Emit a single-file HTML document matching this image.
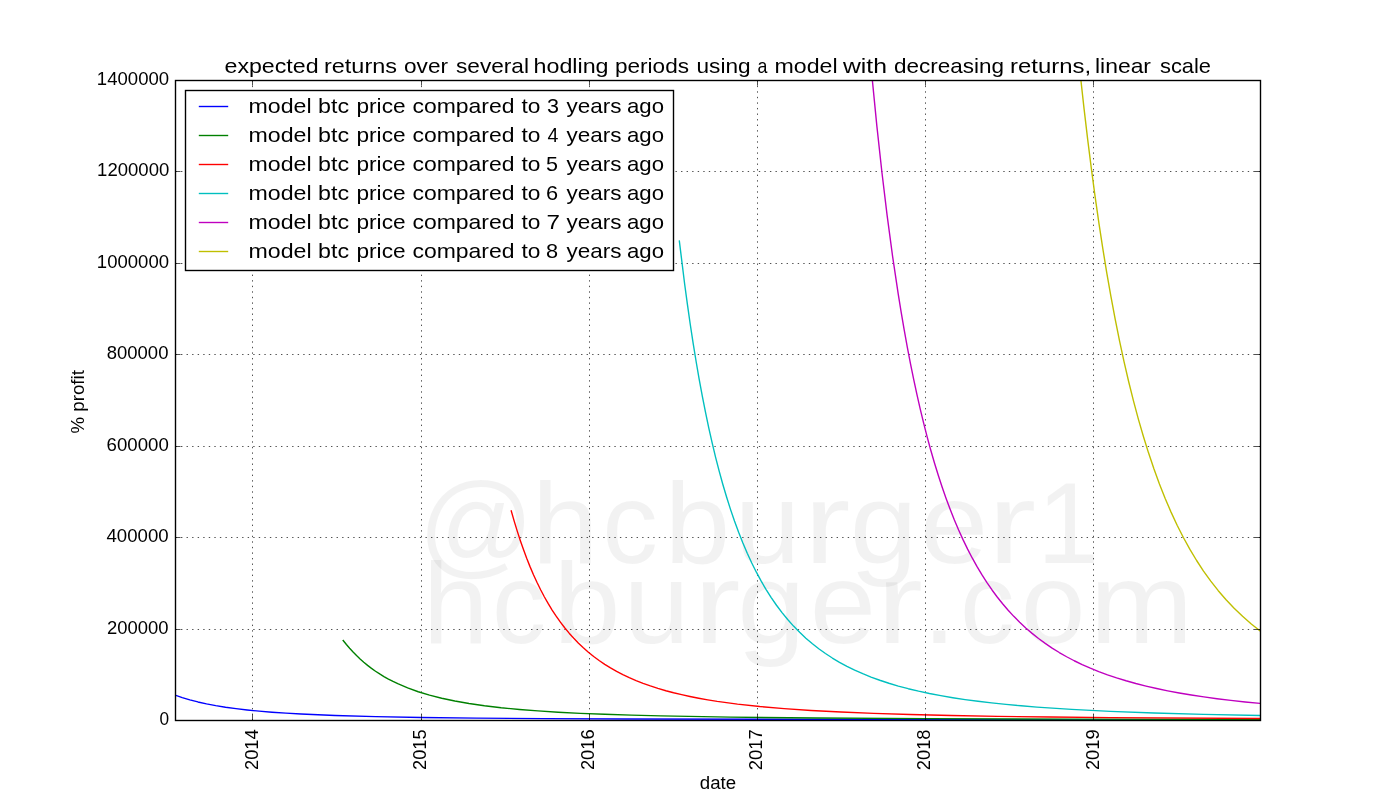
<!DOCTYPE html>
<html><head><meta charset="utf-8"><title>expected returns</title><style>html,body{margin:0;padding:0;background:#fff;overflow:hidden}svg{display:block;will-change:transform}text{font-family:"Liberation Sans",sans-serif;white-space:pre}</style></head><body>
<svg width="1400" height="800" viewBox="0 0 1400 800">
<defs><clipPath id="ax"><rect x="175" y="80" width="1085" height="640"/></clipPath></defs>
<rect width="1400" height="800" fill="#fff"/>
<g fill="#000" fill-opacity="0.05"><text class="t" id="wm1_0" x="418.35" y="563.40" font-size="115.50" textLength="115.59" lengthAdjust="spacingAndGlyphs" fill="#000" fill-opacity="0.05">@</text><text class="t" id="wm1_1" x="531.88" y="563.40" font-size="115.50" textLength="66.71" lengthAdjust="spacingAndGlyphs" fill="#000" fill-opacity="0.05">h</text><text class="t" id="wm1_2" x="602.37" y="563.40" font-size="115.50" textLength="55.69" lengthAdjust="spacingAndGlyphs" fill="#000" fill-opacity="0.05">c</text><text class="t" id="wm1_3" x="664.73" y="563.40" font-size="115.50" textLength="65.43" lengthAdjust="spacingAndGlyphs" fill="#000" fill-opacity="0.05">b</text><text class="t" id="wm1_4" x="734.69" y="563.40" font-size="115.50" textLength="65.59" lengthAdjust="spacingAndGlyphs" fill="#000" fill-opacity="0.05">u</text><text class="t" id="wm1_5" x="803.81" y="563.40" font-size="115.50" textLength="46.75" lengthAdjust="spacingAndGlyphs" fill="#000" fill-opacity="0.05">r</text><text class="t" id="wm1_6" x="849.80" y="563.40" font-size="115.50" textLength="67.65" lengthAdjust="spacingAndGlyphs" fill="#000" fill-opacity="0.05">g</text><text class="t" id="wm1_7" x="919.67" y="563.40" font-size="115.50" textLength="68.51" lengthAdjust="spacingAndGlyphs" fill="#000" fill-opacity="0.05">e</text><text class="t" id="wm1_8" x="987.48" y="563.40" font-size="115.50" textLength="48.75" lengthAdjust="spacingAndGlyphs" fill="#000" fill-opacity="0.05">r</text><text class="t" id="wm1_9" x="1036.88" y="563.40" font-size="115.50" textLength="62.17" lengthAdjust="spacingAndGlyphs" fill="#000" fill-opacity="0.05">1</text><text class="t" id="wm2_0" x="422.82" y="643.40" font-size="115.50" textLength="65.91" lengthAdjust="spacingAndGlyphs" fill="#000" fill-opacity="0.05">h</text><text class="t" id="wm2_1" x="492.02" y="643.40" font-size="115.50" textLength="53.95" lengthAdjust="spacingAndGlyphs" fill="#000" fill-opacity="0.05">c</text><text class="t" id="wm2_2" x="553.53" y="643.40" font-size="115.50" textLength="67.03" lengthAdjust="spacingAndGlyphs" fill="#000" fill-opacity="0.05">b</text><text class="t" id="wm2_3" x="623.43" y="643.40" font-size="115.50" textLength="66.15" lengthAdjust="spacingAndGlyphs" fill="#000" fill-opacity="0.05">u</text><text class="t" id="wm2_4" x="693.56" y="643.40" font-size="115.50" textLength="47.05" lengthAdjust="spacingAndGlyphs" fill="#000" fill-opacity="0.05">r</text><text class="t" id="wm2_5" x="737.36" y="643.40" font-size="115.50" textLength="68.02" lengthAdjust="spacingAndGlyphs" fill="#000" fill-opacity="0.05">g</text><text class="t" id="wm2_6" x="809.75" y="643.40" font-size="115.50" textLength="66.26" lengthAdjust="spacingAndGlyphs" fill="#000" fill-opacity="0.05">e</text><text class="t" id="wm2_7" x="876.84" y="643.40" font-size="115.50" textLength="46.14" lengthAdjust="spacingAndGlyphs" fill="#000" fill-opacity="0.05">r</text><text class="t" id="wm2_8" x="921.80" y="643.40" font-size="115.50" textLength="35.31" lengthAdjust="spacingAndGlyphs" fill="#000" fill-opacity="0.05">.</text><text class="t" id="wm2_9" x="960.05" y="643.40" font-size="115.50" textLength="54.73" lengthAdjust="spacingAndGlyphs" fill="#000" fill-opacity="0.05">c</text><text class="t" id="wm2_10" x="1020.82" y="643.40" font-size="115.50" textLength="64.78" lengthAdjust="spacingAndGlyphs" fill="#000" fill-opacity="0.05">o</text><text class="t" id="wm2_11" x="1089.66" y="643.40" font-size="115.50" textLength="103.44" lengthAdjust="spacingAndGlyphs" fill="#000" fill-opacity="0.05">m</text></g>
<g class="grid"><path d="M252.5 720V80" stroke="#000" stroke-width="0.69" stroke-dasharray="1.389 4.167" stroke-dashoffset="0.5" fill="none"/><path d="M421.5 720V80" stroke="#000" stroke-width="0.69" stroke-dasharray="1.389 4.167" stroke-dashoffset="0.5" fill="none"/><path d="M589.5 720V80" stroke="#000" stroke-width="0.69" stroke-dasharray="1.389 4.167" stroke-dashoffset="0.5" fill="none"/><path d="M757.5 720V80" stroke="#000" stroke-width="0.69" stroke-dasharray="1.389 4.167" stroke-dashoffset="0.5" fill="none"/><path d="M925.5 720V80" stroke="#000" stroke-width="0.69" stroke-dasharray="1.389 4.167" stroke-dashoffset="0.5" fill="none"/><path d="M1093.5 720V80" stroke="#000" stroke-width="0.69" stroke-dasharray="1.389 4.167" stroke-dashoffset="0.5" fill="none"/><path d="M175 171.5H1260" stroke="#000" stroke-width="0.69" stroke-dasharray="1.389 4.167" stroke-dashoffset="-0.45" fill="none"/><path d="M175 263.5H1260" stroke="#000" stroke-width="0.69" stroke-dasharray="1.389 4.167" stroke-dashoffset="-0.45" fill="none"/><path d="M175 354.5H1260" stroke="#000" stroke-width="0.69" stroke-dasharray="1.389 4.167" stroke-dashoffset="-0.45" fill="none"/><path d="M175 446.5H1260" stroke="#000" stroke-width="0.69" stroke-dasharray="1.389 4.167" stroke-dashoffset="-0.45" fill="none"/><path d="M175 537.5H1260" stroke="#000" stroke-width="0.69" stroke-dasharray="1.389 4.167" stroke-dashoffset="-0.45" fill="none"/><path d="M175 629.5H1260" stroke="#000" stroke-width="0.69" stroke-dasharray="1.389 4.167" stroke-dashoffset="-0.45" fill="none"/></g>
<g clip-path="url(#ax)"><path d="M175.09 695.10 L182.23 697.58 L189.83 699.86 L197.89 701.95 L206.52 703.87 L215.73 705.63 L225.52 707.22 L235.99 708.67 L247.16 709.97 L259.13 711.15 L272.03 712.21 L285.96 713.17 L301.04 714.03 L335.12 715.48 L375.76 716.62 L421.35 717.46 L476.38 718.12 L543.50 718.62 L626.85 719.01 L862.28 719.50 L1260.39 719.75" stroke="#0000ff" stroke-width="1.39" fill="none" stroke-linejoin="round" stroke-linecap="square"/><path d="M343.18 640.50 L346.40 644.54 L349.62 648.31 L353.08 652.08 L356.53 655.60 L360.10 658.99 L363.78 662.25 L367.58 665.37 L371.50 668.36 L375.53 671.22 L379.67 673.94 L383.93 676.54 L388.42 679.07 L393.03 681.46 L397.75 683.73 L407.65 687.94 L418.24 691.75 L429.52 695.17 L441.73 698.27 L454.85 701.05 L469.01 703.53 L484.44 705.76 L501.13 707.73 L519.44 709.48 L537.97 710.92 L558.23 712.20 L580.34 713.32 L604.63 714.31 L631.34 715.17 L660.93 715.92 L730.46 717.13 L816.23 718.01 L925.95 718.65 L1068.94 719.10 L1260.39 719.41" stroke="#008000" stroke-width="1.39" fill="none" stroke-linejoin="round" stroke-linecap="square"/><path d="M511.26 510.93 L514.26 521.37 L517.25 531.16 L520.36 540.68 L523.47 549.59 L526.69 558.24 L530.03 566.62 L533.48 574.70 L536.94 582.25 L540.62 589.75 L544.30 596.74 L548.10 603.44 L552.13 610.05 L556.16 616.18 L560.42 622.18 L564.68 627.75 L569.17 633.18 L573.78 638.32 L578.50 643.19 L583.33 647.79 L588.40 652.23 L593.69 656.50 L599.10 660.50 L604.74 664.34 L610.50 667.92 L616.60 671.39 L622.82 674.62 L629.27 677.68 L636.06 680.61 L643.08 683.36 L650.34 685.95 L657.93 688.40 L665.88 690.72 L673.59 692.76 L681.65 694.69 L689.94 696.49 L698.69 698.20 L707.78 699.81 L717.22 701.32 L737.49 704.07 L759.71 706.49 L784.11 708.60 L811.05 710.44 L840.98 712.03 L873.68 713.37 L910.18 714.52 L951.28 715.50 L997.67 716.33 L1050.29 717.03 L1110.50 717.61 L1260.39 718.48" stroke="#ff0000" stroke-width="1.39" fill="none" stroke-linejoin="round" stroke-linecap="square"/><path d="M679.35 241.08 L684.64 283.99 L687.41 304.45 L690.28 324.50 L693.16 343.34 L696.16 361.74 L699.15 379.02 L702.26 395.87 L705.48 412.24 L708.70 427.57 L712.16 442.94 L715.61 457.30 L719.18 471.16 L722.86 484.50 L726.66 497.32 L730.58 509.61 L734.49 521.05 L738.64 532.31 L742.90 543.04 L747.27 553.26 L751.76 562.98 L756.37 572.20 L761.20 581.15 L766.15 589.60 L771.22 597.58 L776.51 605.25 L782.04 612.61 L787.68 619.51 L793.55 626.09 L799.65 632.35 L805.87 638.17 L812.43 643.79 L818.77 648.74 L825.44 653.52 L832.35 658.03 L839.49 662.28 L846.97 666.33 L854.68 670.13 L862.74 673.72 L871.03 677.07 L879.78 680.27 L888.88 683.26 L898.32 686.06 L908.22 688.70 L918.58 691.18 L929.40 693.50 L940.80 695.67 L952.77 697.71 L965.09 699.57 L977.99 701.29 L991.57 702.91 L1005.96 704.42 L1021.04 705.81 L1036.93 707.10 L1071.58 709.40 L1110.27 711.35 L1154.01 713.00 L1203.63 714.38 L1260.39 715.52" stroke="#00bfbf" stroke-width="1.39" fill="none" stroke-linejoin="round" stroke-linecap="square"/><path d="M872.14 78.00 L876.90 126.34 L881.97 172.79 L887.15 215.67 L892.56 256.04 L898.20 293.89 L901.20 312.39 L904.19 329.89 L907.30 347.07 L910.41 363.30 L913.63 379.21 L916.85 394.22 L920.19 408.90 L923.65 423.21 L927.21 437.14 L930.78 450.24 L934.47 462.97 L938.27 475.31 L942.18 487.24 L946.10 498.44 L950.24 509.56 L954.38 519.98 L958.64 530.01 L963.13 539.90 L967.62 549.13 L972.34 558.20 L977.06 566.66 L982.02 574.93 L986.97 582.63 L992.03 589.98 L997.21 596.98 L1002.62 603.78 L1008.15 610.23 L1013.79 616.35 L1019.66 622.25 L1025.76 627.93 L1032.10 633.39 L1038.54 638.51 L1045.22 643.41 L1052.13 648.09 L1059.27 652.53 L1066.63 656.75 L1074.23 660.75 L1082.18 664.58 L1090.35 668.19 L1098.75 671.58 L1107.50 674.81 L1116.60 677.88 L1126.04 680.77 L1135.82 683.50 L1146.07 686.09 L1156.66 688.52 L1167.71 690.81 L1179.23 692.97 L1191.32 695.01 L1203.86 696.92 L1216.99 698.70 L1230.80 700.39 L1245.19 701.96 L1260.39 703.44" stroke="#bf00bf" stroke-width="1.39" fill="none" stroke-linejoin="round" stroke-linecap="square"/><path d="M1080.66 78.00 L1084.13 109.38 L1087.70 139.62 L1091.39 168.89 L1095.07 196.33 L1098.87 222.85 L1102.78 248.43 L1106.81 273.05 L1110.96 296.71 L1115.22 319.40 L1119.59 341.14 L1124.08 361.91 L1128.69 381.75 L1133.41 400.65 L1138.36 419.07 L1143.42 436.54 L1148.60 453.09 L1153.90 468.77 L1159.43 483.89 L1165.18 498.44 L1171.05 512.12 L1177.15 525.21 L1183.37 537.49 L1189.93 549.39 L1196.61 560.50 L1203.52 571.03 L1210.77 581.15 L1218.26 590.68 L1226.08 599.77 L1234.14 608.28 L1242.55 616.35 L1251.30 623.96 L1260.39 631.12" stroke="#bfbf00" stroke-width="1.39" fill="none" stroke-linejoin="round" stroke-linecap="square"/></g>
<path d="M252.5 720V714.44M252.5 80V85.56M421.5 720V714.44M421.5 80V85.56M589.5 720V714.44M589.5 80V85.56M757.5 720V714.44M757.5 80V85.56M925.5 720V714.44M925.5 80V85.56M1093.5 720V714.44M1093.5 80V85.56M175 171.5H180.56M1260 171.5H1254.44M175 263.5H180.56M1260 263.5H1254.44M175 354.5H180.56M1260 354.5H1254.44M175 446.5H180.56M1260 446.5H1254.44M175 537.5H180.56M1260 537.5H1254.44M175 629.5H180.56M1260 629.5H1254.44M175 720.5H180.56M1260 720.5H1254.44M175 80.5H180.56M1260 80.5H1254.44" stroke="#000" stroke-width="0.69" fill="none"/>
<rect x="175.5" y="80.5" width="1085" height="640" fill="none" stroke="#000" stroke-width="1.39"/>
<rect x="185.5" y="90.5" width="488.0" height="180.0" fill="#fff" stroke="#000" stroke-width="1.39"/>
<path d="M198.80 106.50H228.20" stroke="#0000ff" stroke-width="1.39"/>
<path d="M198.80 135.50H228.20" stroke="#008000" stroke-width="1.39"/>
<path d="M198.80 164.50H228.20" stroke="#ff0000" stroke-width="1.39"/>
<path d="M198.80 193.50H228.20" stroke="#00bfbf" stroke-width="1.39"/>
<path d="M198.80 222.50H228.20" stroke="#bf00bf" stroke-width="1.39"/>
<path d="M198.80 251.50H228.20" stroke="#bfbf00" stroke-width="1.39"/>
<text class="t" id="leg3_0" x="248.50" y="113.00" font-size="21.00" textLength="63.05" lengthAdjust="spacingAndGlyphs" fill="#000">model</text><text class="t" id="leg3_1" x="318.00" y="113.00" font-size="21.00" textLength="31.00" lengthAdjust="spacingAndGlyphs" fill="#000">btc</text><text class="t" id="leg3_2" x="356.50" y="113.00" font-size="21.00" textLength="49.07" lengthAdjust="spacingAndGlyphs" fill="#000">price</text><text class="t" id="leg3_3" x="412.50" y="113.00" font-size="21.00" textLength="102.03" lengthAdjust="spacingAndGlyphs" fill="#000">compared</text><text class="t" id="leg3_4" x="521.50" y="113.00" font-size="21.00" textLength="18.95" lengthAdjust="spacingAndGlyphs" fill="#000">to</text><text class="t" id="leg3_5" x="547.00" y="113.00" font-size="21.00" textLength="12.00" lengthAdjust="spacingAndGlyphs" fill="#000">3</text><text class="t" id="leg3_6" x="566.50" y="113.00" font-size="21.00" textLength="54.98" lengthAdjust="spacingAndGlyphs" fill="#000">years</text><text class="t" id="leg3_7" x="627.00" y="113.00" font-size="21.00" textLength="37.00" lengthAdjust="spacingAndGlyphs" fill="#000">ago</text><text class="t" id="leg4_0" x="248.50" y="142.00" font-size="21.00" textLength="63.05" lengthAdjust="spacingAndGlyphs" fill="#000">model</text><text class="t" id="leg4_1" x="318.00" y="142.00" font-size="21.00" textLength="31.00" lengthAdjust="spacingAndGlyphs" fill="#000">btc</text><text class="t" id="leg4_2" x="356.50" y="142.00" font-size="21.00" textLength="49.07" lengthAdjust="spacingAndGlyphs" fill="#000">price</text><text class="t" id="leg4_3" x="412.50" y="142.00" font-size="21.00" textLength="102.03" lengthAdjust="spacingAndGlyphs" fill="#000">compared</text><text class="t" id="leg4_4" x="521.50" y="142.00" font-size="21.00" textLength="18.95" lengthAdjust="spacingAndGlyphs" fill="#000">to</text><text class="t" id="leg4_5" x="547.50" y="142.00" font-size="21.00" textLength="10.91" lengthAdjust="spacingAndGlyphs" fill="#000">4</text><text class="t" id="leg4_6" x="566.50" y="142.00" font-size="21.00" textLength="54.98" lengthAdjust="spacingAndGlyphs" fill="#000">years</text><text class="t" id="leg4_7" x="627.00" y="142.00" font-size="21.00" textLength="37.00" lengthAdjust="spacingAndGlyphs" fill="#000">ago</text><text class="t" id="leg5_0" x="248.50" y="171.00" font-size="21.00" textLength="63.05" lengthAdjust="spacingAndGlyphs" fill="#000">model</text><text class="t" id="leg5_1" x="318.00" y="171.00" font-size="21.00" textLength="31.00" lengthAdjust="spacingAndGlyphs" fill="#000">btc</text><text class="t" id="leg5_2" x="356.50" y="171.00" font-size="21.00" textLength="49.07" lengthAdjust="spacingAndGlyphs" fill="#000">price</text><text class="t" id="leg5_3" x="412.50" y="171.00" font-size="21.00" textLength="102.03" lengthAdjust="spacingAndGlyphs" fill="#000">compared</text><text class="t" id="leg5_4" x="521.50" y="171.00" font-size="21.00" textLength="18.95" lengthAdjust="spacingAndGlyphs" fill="#000">to</text><text class="t" id="leg5_5" x="546.00" y="171.00" font-size="21.00" textLength="12.00" lengthAdjust="spacingAndGlyphs" fill="#000">5</text><text class="t" id="leg5_6" x="566.50" y="171.00" font-size="21.00" textLength="54.98" lengthAdjust="spacingAndGlyphs" fill="#000">years</text><text class="t" id="leg5_7" x="627.00" y="171.00" font-size="21.00" textLength="37.00" lengthAdjust="spacingAndGlyphs" fill="#000">ago</text><text class="t" id="leg6_0" x="248.50" y="200.00" font-size="21.00" textLength="63.05" lengthAdjust="spacingAndGlyphs" fill="#000">model</text><text class="t" id="leg6_1" x="318.00" y="200.00" font-size="21.00" textLength="31.00" lengthAdjust="spacingAndGlyphs" fill="#000">btc</text><text class="t" id="leg6_2" x="356.50" y="200.00" font-size="21.00" textLength="49.07" lengthAdjust="spacingAndGlyphs" fill="#000">price</text><text class="t" id="leg6_3" x="412.50" y="200.00" font-size="21.00" textLength="102.03" lengthAdjust="spacingAndGlyphs" fill="#000">compared</text><text class="t" id="leg6_4" x="521.50" y="200.00" font-size="21.00" textLength="18.95" lengthAdjust="spacingAndGlyphs" fill="#000">to</text><text class="t" id="leg6_5" x="546.00" y="200.00" font-size="21.00" textLength="12.12" lengthAdjust="spacingAndGlyphs" fill="#000">6</text><text class="t" id="leg6_6" x="566.50" y="200.00" font-size="21.00" textLength="54.98" lengthAdjust="spacingAndGlyphs" fill="#000">years</text><text class="t" id="leg6_7" x="627.00" y="200.00" font-size="21.00" textLength="37.00" lengthAdjust="spacingAndGlyphs" fill="#000">ago</text><text class="t" id="leg7_0" x="248.50" y="229.00" font-size="21.00" textLength="63.05" lengthAdjust="spacingAndGlyphs" fill="#000">model</text><text class="t" id="leg7_1" x="318.00" y="229.00" font-size="21.00" textLength="31.00" lengthAdjust="spacingAndGlyphs" fill="#000">btc</text><text class="t" id="leg7_2" x="356.50" y="229.00" font-size="21.00" textLength="49.07" lengthAdjust="spacingAndGlyphs" fill="#000">price</text><text class="t" id="leg7_3" x="412.50" y="229.00" font-size="21.00" textLength="102.03" lengthAdjust="spacingAndGlyphs" fill="#000">compared</text><text class="t" id="leg7_4" x="521.50" y="229.00" font-size="21.00" textLength="18.95" lengthAdjust="spacingAndGlyphs" fill="#000">to</text><text class="t" id="leg7_5" x="546.50" y="229.00" font-size="21.00" textLength="13.47" lengthAdjust="spacingAndGlyphs" fill="#000">7</text><text class="t" id="leg7_6" x="566.50" y="229.00" font-size="21.00" textLength="54.98" lengthAdjust="spacingAndGlyphs" fill="#000">years</text><text class="t" id="leg7_7" x="627.00" y="229.00" font-size="21.00" textLength="37.00" lengthAdjust="spacingAndGlyphs" fill="#000">ago</text><text class="t" id="leg8_0" x="248.50" y="258.00" font-size="21.00" textLength="63.05" lengthAdjust="spacingAndGlyphs" fill="#000">model</text><text class="t" id="leg8_1" x="318.00" y="258.00" font-size="21.00" textLength="31.00" lengthAdjust="spacingAndGlyphs" fill="#000">btc</text><text class="t" id="leg8_2" x="356.50" y="258.00" font-size="21.00" textLength="49.07" lengthAdjust="spacingAndGlyphs" fill="#000">price</text><text class="t" id="leg8_3" x="412.50" y="258.00" font-size="21.00" textLength="102.03" lengthAdjust="spacingAndGlyphs" fill="#000">compared</text><text class="t" id="leg8_4" x="521.50" y="258.00" font-size="21.00" textLength="18.95" lengthAdjust="spacingAndGlyphs" fill="#000">to</text><text class="t" id="leg8_5" x="546.00" y="258.00" font-size="21.00" textLength="12.12" lengthAdjust="spacingAndGlyphs" fill="#000">8</text><text class="t" id="leg8_6" x="566.50" y="258.00" font-size="21.00" textLength="54.98" lengthAdjust="spacingAndGlyphs" fill="#000">years</text><text class="t" id="leg8_7" x="627.00" y="258.00" font-size="21.00" textLength="37.00" lengthAdjust="spacingAndGlyphs" fill="#000">ago</text>
<text class="t" id="y0" x="159.55" y="725.00" font-size="17.67" textLength="9.60" lengthAdjust="spacingAndGlyphs" fill="#000">0</text>
<text class="t" id="y200000" x="107.02" y="634.00" font-size="17.67" textLength="61.57" lengthAdjust="spacingAndGlyphs" fill="#000">200000</text>
<text class="t" id="y400000" x="106.45" y="542.00" font-size="17.67" textLength="62.17" lengthAdjust="spacingAndGlyphs" fill="#000">400000</text>
<text class="t" id="y600000" x="106.61" y="451.00" font-size="17.67" textLength="62.21" lengthAdjust="spacingAndGlyphs" fill="#000">600000</text>
<text class="t" id="y800000" x="106.75" y="359.00" font-size="17.67" textLength="61.69" lengthAdjust="spacingAndGlyphs" fill="#000">800000</text>
<text class="t" id="y1000000" x="96.88" y="268.00" font-size="17.67" textLength="72.17" lengthAdjust="spacingAndGlyphs" fill="#000">1000000</text>
<text class="t" id="y1200000" x="97.09" y="176.00" font-size="17.67" textLength="72.19" lengthAdjust="spacingAndGlyphs" fill="#000">1200000</text>
<text class="t" id="y1400000" x="96.89" y="85.00" font-size="17.67" textLength="72.24" lengthAdjust="spacingAndGlyphs" fill="#000">1400000</text>
<text class="t" id="x2014" x="257.98" y="770.00" font-size="17.67" textLength="40.73" lengthAdjust="spacingAndGlyphs" transform="rotate(-90 257.98 770.00)" fill="#000">2014</text>
<text class="t" id="x2015" x="425.94" y="769.90" font-size="17.67" textLength="40.40" lengthAdjust="spacingAndGlyphs" transform="rotate(-90 425.94 769.90)" fill="#000">2015</text>
<text class="t" id="x2016" x="593.74" y="770.10" font-size="17.67" textLength="40.78" lengthAdjust="spacingAndGlyphs" transform="rotate(-90 593.74 770.10)" fill="#000">2016</text>
<text class="t" id="x2017" x="761.99" y="770.25" font-size="17.67" textLength="41.13" lengthAdjust="spacingAndGlyphs" transform="rotate(-90 761.99 770.25)" fill="#000">2017</text>
<text class="t" id="x2018" x="929.99" y="770.19" font-size="17.67" textLength="40.69" lengthAdjust="spacingAndGlyphs" transform="rotate(-90 929.99 770.19)" fill="#000">2018</text>
<text class="t" id="x2019" x="1098.95" y="770.02" font-size="17.67" textLength="40.59" lengthAdjust="spacingAndGlyphs" transform="rotate(-90 1098.95 770.02)" fill="#000">2019</text>
<text class="t" id="xlabel" x="699.81" y="789.00" font-size="17.50" textLength="36.35" lengthAdjust="spacingAndGlyphs" fill="#000">date</text>
<text class="t" id="ylabel" x="83.58" y="433.48" font-size="17.50" textLength="63.34" lengthAdjust="spacingAndGlyphs" transform="rotate(-90 83.58 433.48)" fill="#000">% profit</text>
<text class="t" id="title_0" x="224.50" y="73.00" font-size="21.00" textLength="94.04" lengthAdjust="spacingAndGlyphs" fill="#000">expected</text>
<text class="t" id="title_1" x="324.00" y="73.00" font-size="21.00" textLength="73.00" lengthAdjust="spacingAndGlyphs" fill="#000">returns</text>
<text class="t" id="title_2" x="404.00" y="73.00" font-size="21.00" textLength="44.00" lengthAdjust="spacingAndGlyphs" fill="#000">over</text>
<text class="t" id="title_3" x="456.00" y="73.00" font-size="21.00" textLength="73.00" lengthAdjust="spacingAndGlyphs" fill="#000">several</text>
<text class="t" id="title_4" x="533.50" y="73.00" font-size="21.00" textLength="75.06" lengthAdjust="spacingAndGlyphs" fill="#000">hodling</text>
<text class="t" id="title_5" x="615.00" y="73.00" font-size="21.00" textLength="74.00" lengthAdjust="spacingAndGlyphs" fill="#000">periods</text>
<text class="t" id="title_6" x="696.50" y="73.00" font-size="21.00" textLength="54.08" lengthAdjust="spacingAndGlyphs" fill="#000">using</text>
<text class="t" id="title_7" x="757.50" y="73.00" font-size="21.00" textLength="9.90" lengthAdjust="spacingAndGlyphs" fill="#000">a</text>
<text class="t" id="title_8" x="774.50" y="73.00" font-size="21.00" textLength="63.05" lengthAdjust="spacingAndGlyphs" fill="#000">model</text>
<text class="t" id="title_9" x="843.00" y="73.00" font-size="21.00" textLength="44.00" lengthAdjust="spacingAndGlyphs" fill="#000">with</text>
<text class="t" id="title_10" x="894.00" y="73.00" font-size="21.00" textLength="110.00" lengthAdjust="spacingAndGlyphs" fill="#000">decreasing</text>
<text class="t" id="title_11" x="1010.00" y="73.00" font-size="21.00" textLength="81.11" lengthAdjust="spacingAndGlyphs" fill="#000">returns,</text>
<text class="t" id="title_12" x="1095.00" y="73.00" font-size="21.00" textLength="56.00" lengthAdjust="spacingAndGlyphs" fill="#000">linear</text>
<text class="t" id="title_13" x="1160.00" y="73.00" font-size="21.00" textLength="51.00" lengthAdjust="spacingAndGlyphs" fill="#000">scale</text>
</svg></body></html>
